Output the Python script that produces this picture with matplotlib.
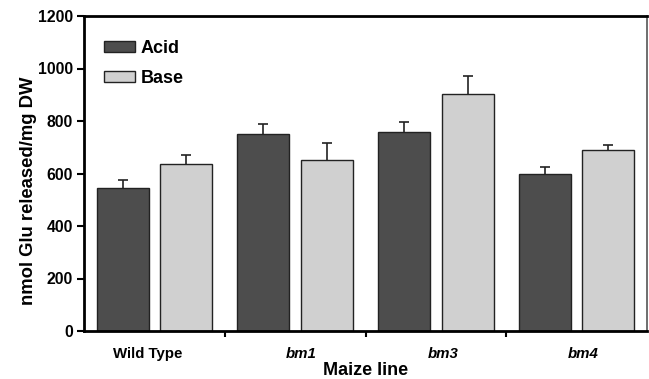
import matplotlib
matplotlib.use("Agg")
import matplotlib.pyplot as plt
import numpy as np

plt.rcParams['font.family'] = ['Liberation Sans', 'DejaVu Sans']

lines = ["Wild Type", "bm1", "bm3", "bm4"]
acid = [546, 752, 757, 598]
acid_err = [28, 38, 40, 25]
base = [635, 650, 902, 688]
base_err = [35, 65, 71, 21]

fig = plt.figure(figsize=(6.49, 3.79), dpi=100)
ax = fig.add_axes([84/649, 1-331/379, (647-84)/649, (331-16)/379])

x = np.arange(len(lines))
w = 0.37
off = 0.225
ax.bar(x - off, acid, w, color='#4d4d4d', edgecolor='#222222', linewidth=1, label='Acid', zorder=2)
ax.bar(x + off, base, w, color='#d0d0d0', edgecolor='#222222', linewidth=1, label='Base', zorder=2)
for xs, vals, errs in [(x - off, acid, acid_err), (x + off, base, base_err)]:
    _, caps, _ = ax.errorbar(xs, vals, yerr=[np.zeros(4), errs], fmt='none', ecolor='#222222',
                             elinewidth=1.2, capsize=3.5, capthick=1.2, zorder=1)
    caps[0].set_visible(False)

ax.set_xlim(-0.5, len(lines) - 0.5)
ax.set_ylim(0, 1200)
ax.set_yticks([0, 200, 400, 600, 800, 1000, 1200])
ax.tick_params(axis='y', direction='out', length=5, width=1.5, labelsize=11.3, pad=3)
for lab in ax.get_yticklabels():
    lab.set_fontweight('bold')

ax.set_xticks([0.5, 1.5, 2.5])
ax.set_xticklabels([])
ax.tick_params(axis='x', direction='out', length=4, width=1.5)
label_shift = [-0.05, 0.045, 0.05, 0.045]
for i, name in enumerate(lines):
    style = 'normal' if i == 0 else 'italic'
    ax.text(i + label_shift[i], -0.05, name, transform=ax.get_xaxis_transform(), ha='center', va='top',
            fontsize=10.8, fontweight='bold', style=style)

for s in ['left', 'bottom', 'top']:
    ax.spines[s].set_linewidth(2)
ax.spines['right'].set_linewidth(1.2)
ax.spines['right'].set_color('#555555')

ax.set_ylabel('nmol Glu released/mg DW', fontsize=13.3, fontweight='bold')
ax.yaxis.set_label_coords(-0.083, 0.446)
fig.text((84+647)/2/649, 1-375/379, 'Maize line', ha='center', va='baseline', fontsize=13, fontweight='bold')

leg = ax.legend(loc='upper left', bbox_to_anchor=(0.0355, 0.925), frameon=False, borderaxespad=0, borderpad=0,
                prop={'weight': 'bold', 'size': 13}, handlelength=1.7, handleheight=0.6,
                labelspacing=0.72, handletextpad=0.35)

fig.savefig('out.png', dpi=100)
